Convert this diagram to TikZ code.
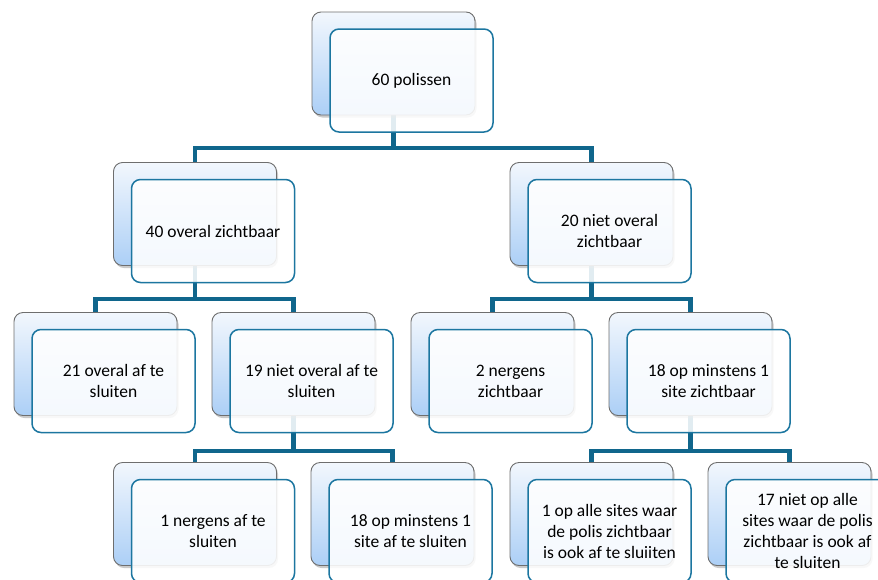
\documentclass[tikz,border=0pt]{standalone}
\usepackage{fontspec}
\setmainfont{Carlito}
\usetikzlibrary{shadows}
\pgfdeclarelayer{background}
\pgfsetlayers{background,main}
\definecolor{connc}{RGB}{16,102,140}
\definecolor{fborder}{RGB}{28,118,160}
\definecolor{btop}{RGB}{242,247,253}
\definecolor{bbot}{RGB}{172,207,246}
\definecolor{bdraw}{RGB}{110,110,110}
\tikzset{
 backbox/.style={rectangle, rounded corners=9pt, minimum width=163pt, minimum height=103pt,
   draw=bdraw, line width=0.9pt, top color=btop, bottom color=bbot,
   drop shadow={shadow xshift=1.5pt, shadow yshift=-2.5pt, opacity=0.35, fill=black!60}},
 frontbox/.style={rectangle, rounded corners=9pt, minimum width=163pt, minimum height=103pt,
   draw=fborder, line width=1.5pt, fill=white, fill opacity=0.88, text opacity=1,
   align=center, font=\fontsize{17.5}{21}\selectfont, text=black, inner sep=2pt},
 connline/.style={draw=connc, line width=4.5pt}
}
\begin{document}
\begin{tikzpicture}[x=1pt,y=-1pt]
\useasboundingbox (0,0) rectangle (878,579);
\clip (0,0) rectangle (878,579);
% level 1
\node[backbox] (b1) at (393.5,63.5) {};
% level 2
\node[backbox] (b2) at (195,214) {};
\node[backbox] (b3) at (591.5,214) {};
% level 3
\node[backbox] (bA) at (95.5,364) {};
\node[backbox] (bB) at (293.5,364) {};
\node[backbox] (bC) at (492.5,364) {};
\node[backbox] (bD) at (690.5,364) {};
% level 4
\node[backbox] (bE) at (195,514) {};
\node[backbox] (bF) at (392.5,514) {};
\node[backbox] (bG) at (591.5,514) {};
\node[backbox] (bH) at (789.5,514) {};
% front boxes
\node[frontbox] (f1) at (411.5,80.5) {60 polissen};
\node[frontbox] (f2) at (213,231) {40 overal zichtbaar};
\node[frontbox] (f3) at (609.5,231) {20 niet overal\\zichtbaar};
\node[frontbox] (fA) at (113.5,381) {21 overal af te\\sluiten};
\node[frontbox] (fB) at (311.5,381) {19 niet overal af te\\sluiten};
\node[frontbox] (fC) at (510.5,381) {2 nergens\\zichtbaar};
\node[frontbox] (fD) at (708.5,381) {18 op minstens 1\\site zichtbaar};
\node[frontbox] (fE) at (213,531) {1 nergens af te\\sluiten};
\node[frontbox] (fF) at (410.5,531) {18 op minstens 1\\site af te sluiten};
\node[frontbox] (fG) at (609.5,531) {1 op alle sites waar\\de polis zichtbaar\\is ook af te sluiiten};
\node[frontbox] (fH) at (807.5,531) {17 niet op alle\\sites waar de polis\\zichtbaar is ook af\\te sluiten};
% connectors
\coordinate (j1) at (393.5,148);
\coordinate (j2) at (195,299);
\coordinate (j3) at (591.5,299);
\coordinate (j4) at (293.5,451);
\coordinate (j5) at (690.5,451);
\begin{pgfonlayer}{background}
\draw[connline] (b1.south) -- (j1);
\draw[connline] (b2.north) |- (j1) -| (b3.north);
\draw[connline] (b2.south) -- (j2);
\draw[connline] (bA.north) |- (j2) -| (bB.north);
\draw[connline] (b3.south) -- (j3);
\draw[connline] (bC.north) |- (j3) -| (bD.north);
\draw[connline] (bB.south) -- (j4);
\draw[connline] (bE.north) |- (j4) -| (bF.north);
\draw[connline] (bD.south) -- (j5);
\draw[connline] (bG.north) |- (j5) -| (bH.north);
\end{pgfonlayer}
\end{tikzpicture}
\end{document}
